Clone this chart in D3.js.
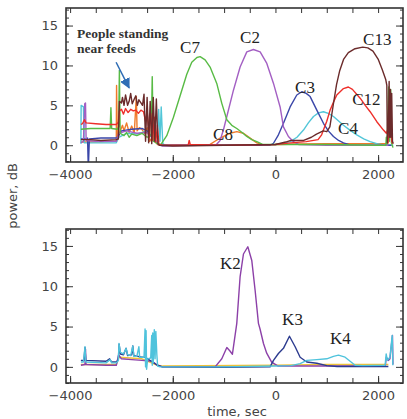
<html>
<head>
<meta charset="utf-8">
<style>
  body { margin: 0; background: white; }
  svg { display: block; }
  .tick text { font-family: "DejaVu Sans", sans-serif; font-size: 13px; fill: #444; }
  .tick line { stroke: #333; stroke-width: 1; }
  .lbl { font-family: "Liberation Serif", serif; font-size: 17px; fill: #222; }
  .note { font-family: "Liberation Serif", serif; font-size: 13.5px; font-weight: bold; fill: #333; }
  .atitle { font-family: "DejaVu Sans", sans-serif; font-size: 13px; fill: #444; }
</style>
<script src="https://cdn.jsdelivr.net/npm/d3@7"></script>
</head>
<body>
<svg id="chart" width="407" height="419"></svg>
<script>
// ---- data: [time sec, power dB] ----
// top panel (C feeds)
let c12 = [[-3790,2.6],[-3760,2.7],[-3720,3.2],[-3690,2.8],[-3500,2.7],[-3300,2.6],[-3100,2.6],[-3060,2.9],[-3040,4.3],[-3000,4.5],[-2960,3.9],[-2920,4.6],[-2870,4.1],[-2820,4.5],[-2770,4.3],[-2720,4.4],[-2670,4.0],[-2620,4.4],[-2570,4.2],[-2530,3.0],[-2500,4.4],[-2460,1.0],[-2430,4.0],[-2390,0.6],[-2360,3.5],[-2330,0.4],[-2300,2.5],[-2270,0.1],[-2200,0.0],[-1700,0.0],[-1680,0.6],[-1660,0.1],[-1000,0.0],[0,0.1],[300,0.3],[600,0.45],[830,0.7],[900,1.3],[1000,3.0],[1065,4.4],[1130,5.4],[1195,6.3],[1325,7.1],[1420,7.3],[1500,7.0],[1650,5.9],[1750,5.0],[1845,4.2],[1975,2.95],[2104,1.9],[2160,1.5],[2185,1.9],[2195,0.3],[2215,5.0],[2230,1.0],[2250,4.2],[2265,0.5],[2285,0.2]]
let c13 = [[-3790,0.7],[-3600,0.7],[-3400,0.6],[-3100,0.7],[-3060,0.8],[-3040,5.5],[-3000,5.3],[-2980,6.0],[-2950,5.0],[-2920,6.3],[-2880,5.0],[-2850,5.5],[-2820,6.5],[-2790,5.2],[-2750,5.8],[-2720,6.2],[-2690,5.0],[-2660,5.7],[-2620,5.3],[-2590,5.0],[-2560,6.4],[-2530,0.5],[-2500,6.0],[-2470,0.3],[-2440,5.5],[-2410,0.2],[-2380,6.0],[-2350,0.5],[-2320,5.8],[-2290,0.2],[-2260,0.0],[-2000,-0.1],[-1000,0.0],[0,0.1],[200,0.4],[300,0.6],[550,0.6],[700,1.0],[800,1.4],[930,1.8],[1000,1.7],[1060,2.3],[1130,5.2],[1190,7.6],[1250,9.3],[1330,10.8],[1420,11.6],[1550,12.1],[1700,12.3],[1800,12.2],[1900,11.8],[2000,10.8],[2080,9.5],[2150,8.2],[2170,7.5],[2180,0.3],[2200,2.0],[2215,8.0],[2225,1.0],[2240,7.0],[2250,1.0],[2265,6.5],[2280,0.5],[2295,0.2]]
let c7 = [[-3790,2.0],[-3600,2.1],[-3400,2.1],[-3220,2.1],[-3205,4.7],[-3190,2.1],[-3080,2.0],[-3055,2.3],[-3040,9.4],[-3025,1.5],[-2950,1.2],[-2900,1.6],[-2850,1.0],[-2800,1.4],[-2700,1.2],[-2600,1.5],[-2500,1.0],[-2420,1.3],[-2400,8.6],[-2380,0.5],[-2300,0.2],[-2230,0.1],[-2117,1.2],[-1987,3.5],[-1857,6.2],[-1727,8.9],[-1630,10.4],[-1530,11.0],[-1467,11.1],[-1370,10.7],[-1273,9.8],[-1143,7.75],[-1045,5.25],[-947,3.2],[-850,2.5],[-753,2.1],[-650,1.6],[-558,1.1],[-460,0.7],[-363,0.45],[-250,0.1],[0,0.1],[1000,0.1],[2000,0.0],[2150,0.0],[2160,1.0],[2175,0.2],[2205,7.3],[2220,0.5],[2245,7.0],[2260,0.3],[2290,-0.3]]
let c2 = [[-3790,0.3],[-3740,0.5],[-3715,5.2],[-3700,5.3],[-3688,0.6],[-3500,0.5],[-3100,0.5],[-3055,1.5],[-2900,1.8],[-2700,1.5],[-2500,1.6],[-2350,0.8],[-2280,0.1],[-2200,-0.1],[-1500,0.0],[-1150,0.1],[-1078,0.6],[-1010,2.0],[-947,3.6],[-818,6.9],[-688,9.8],[-558,11.7],[-429,12.0],[-298,11.7],[-168,10.25],[-38,7.75],[91,4.8],[156,2.3],[253,1.1],[351,0.45],[450,0.1],[1000,0.0],[2200,0.0]]
let c3 = [[-3790,0.8],[-3700,0.8],[-3660,0.9],[-3645,-3],[-3625,0.8],[-3400,0.9],[-3100,0.9],[-3055,1.2],[-3000,1.8],[-2800,2.0],[-2600,2.1],[-2500,1.8],[-2350,0.5],[-2250,0.0],[-1000,0.0],[-104,0.0],[-38,0.25],[50,1.2],[156,2.75],[286,4.8],[416,6.3],[514,6.7],[600,6.5],[676,6.1],[806,4.4],[935,2.75],[1030,1.8],[1130,1.1],[1230,0.6],[1325,0.3],[1450,0.05],[2200,0.0],[2260,0.0]]
let c4 = [[-3790,0.2],[-3785,5.0],[-3740,4.8],[-3725,0.3],[-3500,0.3],[-3100,0.3],[-3055,1.0],[-2900,1.5],[-2700,1.4],[-2500,1.8],[-2400,1.0],[-2300,1.2],[-2275,4.5],[-2250,0.5],[-2225,4.8],[-2195,0.2],[-2150,0.0],[0,0.1],[150,0.2],[286,0.45],[420,1.0],[546,1.9],[641,2.8],[741,3.6],[840,4.05],[935,4.2],[1030,4.0],[1130,3.6],[1325,2.5],[1450,1.9],[1585,1.3],[1720,0.8],[1845,0.45],[1975,0.2],[2100,0.05],[2295,0.0]]
let c8 = [[-3790,0.4],[-3500,0.4],[-3100,0.5],[-3095,7.5],[-3080,0.6],[-3040,1.5],[-2980,2.5],[-2950,1.8],[-2900,2.8],[-2850,1.6],[-2800,2.4],[-2750,1.5],[-2710,6.1],[-2695,1.8],[-2650,2.2],[-2600,2.0],[-2550,1.5],[-2500,2.2],[-2450,0.5],[-2400,1.0],[-2300,0.1],[-2200,0.0],[-1273,0.1],[-1178,0.5],[-1078,0.9],[-980,1.2],[-883,1.5],[-753,1.7],[-623,1.5],[-493,0.9],[-363,0.3],[-250,0.05],[0,0.1],[500,0.15],[1000,0.2],[2000,0.2],[2200,0.2]]

// bottom panel (K feeds)
let kYellow = [[-3790,0.3],[-3100,0.3],[-3050,1.2],[-2600,1.0],[-2300,0.2],[-2200,0.1],[0,0.2],[1000,0.3],[2200,0.3]]
let k2 = [[-3790,0.2],[-3710,0.3],[-3700,2.2],[-3690,0.3],[-3300,0.2],[-3100,0.2],[-3055,1.5],[-3000,1.0],[-2800,0.9],[-2600,0.8],[-2400,0.7],[-2300,0.2],[-2200,0.0],[-1175,0.0],[-1045,1.0],[-947,2.4],[-890,2.0],[-838,1.57],[-753,5.4],[-688,11.2],[-623,14.0],[-538,14.9],[-461,13.2],[-396,9.5],[-331,5.4],[-300,4.7],[-233,2.9],[-170,1.7],[-74,0.6],[52,0.1],[1000,0.1],[2140,0.1],[2160,1.2],[2200,0.8],[2230,1.0],[2280,3.9],[2290,0.3]]
let k3 = [[-3790,0.8],[-3730,0.8],[-3710,2.4],[-3695,0.8],[-3300,0.7],[-3230,1.0],[-3190,0.6],[-3100,0.6],[-3060,0.9],[-3045,2.8],[-3020,1.6],[-2960,1.5],[-2909,2.3],[-2880,1.4],[-2800,1.5],[-2779,2.6],[-2760,1.4],[-2680,1.3],[-2600,1.2],[-2540,1.2],[-2300,0.2],[-2200,0.0],[-1000,-0.05],[-104,0.0],[-38,0.8],[58,1.66],[156,2.3],[273,3.8],[384,2.5],[481,1.2],[611,0.6],[806,0.45],[1000,0.15],[1200,0.05],[2200,0.05]]
let k4 = [[-3790,0.6],[-3740,0.6],[-3710,2.5],[-3695,0.6],[-3300,0.5],[-3220,0.9],[-3190,0.5],[-3100,0.5],[-3060,0.8],[-3048,2.9],[-3020,1.8],[-2960,1.6],[-2909,2.3],[-2880,1.5],[-2820,1.4],[-2779,2.6],[-2760,1.3],[-2700,1.3],[-2660,2.5],[-2645,1.2],[-2560,1.2],[-2540,4.7],[-2530,0.0],[-2520,4.5],[-2510,-0.3],[-2490,1.0],[-2430,1.1],[-2410,3.9],[-2400,0.2],[-2390,4.2],[-2380,0.5],[-2360,4.6],[-2345,1.0],[-2330,4.4],[-2310,1.5],[-2295,0.1],[-2250,0.0],[-1000,0.0],[0,0.1],[300,0.15],[481,0.4],[611,0.8],[806,0.9],[1000,1.0],[1130,1.3],[1228,1.45],[1357,1.2],[1455,0.7],[1552,0.2],[1700,0.15],[2137,0.2],[2157,1.6],[2180,0.8],[2230,1.2],[2275,3.9],[2287,0.2]]

let topSeries = [
  {data: c8, color: "#f07a2a"},
  {data: c4, color: "#52c6d8"},
  {data: c3, color: "#3a46a8"},
  {data: c2, color: "#a35fc3"},
  {data: c7, color: "#58bb45"},
  {data: c12, color: "#ee2f2a"},
  {data: c13, color: "#6b2b2b"}
]
let bottomSeries = [
  {data: kYellow, color: "#eec23a"},
  {data: k2, color: "#8c40a8"},
  {data: k3, color: "#2c3b8f"},
  {data: k4, color: "#4fc3dc"}
]

let xTicks = [-4000, -2000, 0, 2000]
let yTicks = [0, 5, 10, 15]

let svg = d3.select("#chart")
let left = 66, right = 403

let x = d3.scaleLinear().domain([-4080, 2485]).range([left, right])
let yTop = d3.scaleLinear().domain([-2.1, 17.2]).range([162, 8])
let yBot = d3.scaleLinear().domain([-2, 17.1]).range([383, 229])

function panel(y, series, id) {
  let top = y.range()[1], bottom = y.range()[0]
  let g = svg.append("g")

  g.append("clipPath").attr("id", id)
    .append("rect").attr("x", left).attr("y", top)
    .attr("width", right - left).attr("height", bottom - top)

  let line = d3.line().x(d => x(d[0])).y(d => y(d[1]))
  g.append("g").attr("clip-path", "url(#" + id + ")")
    .selectAll("path").data(series).enter().append("path")
    .attr("d", d => line(d.data))
    .attr("fill", "none")
    .attr("stroke", d => d.color)
    .attr("stroke-width", 1.4)
    .attr("stroke-linejoin", "round")

  let minorX = d3.range(-4000, 2500, 500)
  let minorY = d3.range(-2, 18, 1)

  // ticks, all pointing inward
  g.append("g").attr("transform", `translate(0,${bottom})`)
    .call(d3.axisBottom(x).tickValues(minorX).tickSize(-5).tickFormat(""))
  g.append("g").attr("transform", `translate(0,${bottom})`)
    .call(d3.axisBottom(x).tickValues(xTicks).tickSize(-7).tickPadding(8).tickFormat(d3.format("d")))
  g.append("g").attr("transform", `translate(0,${top})`)
    .call(d3.axisTop(x).tickValues(minorX).tickSize(-5).tickFormat(""))
  g.append("g").attr("transform", `translate(${left},0)`)
    .call(d3.axisLeft(y).tickValues(minorY).tickSize(-3).tickFormat(""))
  g.append("g").attr("transform", `translate(${left},0)`)
    .call(d3.axisLeft(y).tickValues(yTicks).tickSize(-7).tickPadding(8).tickFormat(d3.format("d")))
  g.append("g").attr("transform", `translate(${right},0)`)
    .call(d3.axisRight(y).tickValues(minorY).tickSize(-3).tickFormat(""))
  g.append("g").attr("transform", `translate(${right},0)`)
    .call(d3.axisRight(y).tickValues(yTicks).tickSize(-7).tickFormat(""))
  g.selectAll(".domain").remove()

  g.append("rect").attr("x", left).attr("y", top)
    .attr("width", right - left).attr("height", bottom - top)
    .attr("fill", "none").attr("stroke", "#333").attr("stroke-width", 1.6)
  return g
}

let gTop = panel(yTop, topSeries, "clipTop")
let gBot = panel(yBot, bottomSeries, "clipBot")

// feed labels
let topLabels = [["C7", -1857, 11.5], ["C2", -688, 12.8], ["C13", 1708, 12.55], ["C3", 383, 6.55],
                 ["C12", 1494, 5.05], ["C4", 1221, 1.45], ["C8", -1214, 0.7]]
gTop.selectAll(".lbl").data(topLabels).enter().append("text")
  .attr("class", "lbl").attr("x", d => x(d[1])).attr("y", d => yTop(d[2])).text(d => d[0])

let botLabels = [["K2", -1078, 12.2], ["K3", 130, 5.15], ["K4", 1065, 2.8]]
gBot.selectAll(".lbl").data(botLabels).enter().append("text")
  .attr("class", "lbl").attr("x", d => x(d[1])).attr("y", d => yBot(d[2])).text(d => d[0])

// annotation
gTop.append("text").attr("class", "note").attr("x", x(-3864)).attr("y", yTop(13.4)).text("People standing")
gTop.append("text").attr("class", "note").attr("x", x(-3864)).attr("y", yTop(11.55)).text("near feeds")

svg.append("defs").append("marker").attr("id", "arr")
  .attr("viewBox", "0 0 10 10").attr("refX", 9).attr("refY", 5)
  .attr("markerWidth", 7).attr("markerHeight", 7).attr("orient", "auto")
  .append("path").attr("d", "M0,0 L10,5 L0,10 z").attr("fill", "#2f6db5")
gTop.append("line")
  .attr("x1", x(-3104)).attr("y1", yTop(10.4))
  .attr("x2", x(-2850)).attr("y2", yTop(7.2))
  .attr("stroke", "#2f6db5").attr("stroke-width", 1.5)
  .attr("marker-end", "url(#arr)")

// axis titles
svg.append("text").attr("class", "atitle")
  .attr("transform", "translate(17,196) rotate(-90)")
  .attr("text-anchor", "middle").text("power, dB")
svg.append("text").attr("class", "atitle")
  .attr("x", 237).attr("y", 416)
  .attr("text-anchor", "middle").text("time, sec")
</script>
</body>
</html>
